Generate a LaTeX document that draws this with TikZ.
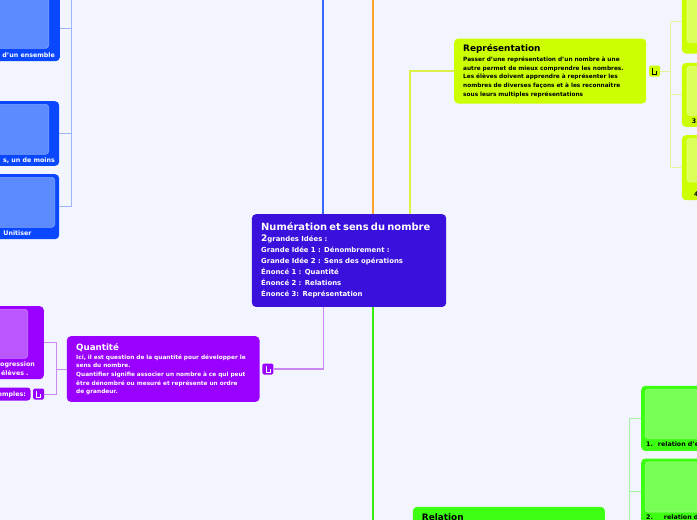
\documentclass[tikz,border=0pt]{standalone}
\usepackage{fontspec}
\setmainfont{DejaVu Sans}
\usetikzlibrary{positioning}

\definecolor{fond}{HTML}{F2F5FD}
\definecolor{centrecol}{HTML}{3A10DC}
\definecolor{bleucol}{HTML}{0A48FF}
\definecolor{bleuimg}{HTML}{5C8BFF}
\definecolor{bleubord}{HTML}{7FA3FF}
\definecolor{bleulien}{HTML}{9DB5FF}
\definecolor{bleutronc}{HTML}{3566FF}
\definecolor{orangetronc}{HTML}{FFA22E}
\definecolor{limecol}{HTML}{CCFF00}
\definecolor{limeimg}{HTML}{DCFF5A}
\definecolor{limebord}{HTML}{E6FF88}
\definecolor{limelien}{HTML}{E2F4A0}
\definecolor{limetronc}{HTML}{DDF04A}
\definecolor{violetcol}{HTML}{9A00FF}
\definecolor{violetimg}{HTML}{BB55FF}
\definecolor{violetbord}{HTML}{CC80FF}
\definecolor{violetlien}{HTML}{CC88F2}
\definecolor{vertcol}{HTML}{3DFF12}
\definecolor{vertimg}{HTML}{77FF55}
\definecolor{vertbord}{HTML}{99FF80}
\definecolor{vertlien}{HTML}{A8F0A8}
\definecolor{verttronc}{HTML}{38EE10}

% petit pictogramme de lien a cote d'un noeud
\newcommand\lienglyphe[2]{%
  \draw[#2, line width=0.7pt] ([shift={(-2pt,3pt)}]#1.center) -- ++(0pt,-6pt) -- ++(4pt,0pt) -- ++(0pt,3pt);}

\begin{document}
\begin{tikzpicture}[x=1pt, y=-1pt,
    trunk/.style={line width=2pt},
    twig/.style={line width=1pt},
    topic/.style={rectangle, rounded corners=4pt, inner xsep=9pt, inner ysep=0pt,
      align=left, anchor=north west, text width=174pt,
      font=\fontsize{5.8}{8.6}\selectfont\bfseries},
    leaf/.style={rectangle, rounded corners=4pt, inner sep=0pt},
    snapshot/.style={rectangle, rounded corners=3pt, inner sep=0pt, line width=0.6pt},
    caption/.style={inner sep=0pt, font=\fontsize{6.3}{7}\selectfont\bfseries},
    linkicon/.style={rectangle, rounded corners=1.5pt, minimum width=11pt,
      minimum height=11pt, inner sep=0pt}]

  \useasboundingbox (0,0) rectangle (697,520);
  \fill[fond] (0,0) rectangle (697,520);
  \clip (0,0) rectangle (697,520);

  % 1. noeud central
  \node[topic, fill=centrecol, text=white, text width=175.7pt, inner xsep=9.3pt,
    minimum height=92.7pt, font=\fontsize{6.9}{11}\selectfont\bfseries]
    (centre) at (251.7,214)
    {{\fontsize{9.9}{11}\selectfont Numération et sens du nombre}\\
     {\fontsize{9}{11}\selectfont 2}grandes Idées :\\
     Grande Idée 1 : Dénombrement :\\
     Grande Idée 2 : Sens des opérations\\
     Énoncé 1 : Quantité\\
     Énoncé 2 : Relations\\
     Énoncé 3: Représentation};

  % points de depart des branches (hors cadre)
  \coordinate (brancheBleue) at (323.3,-20);
  \coordinate (brancheOrange) at (372.7,-20);
  \coordinate (brancheLime) at (410,0);

  % 2. les trois sujets
  \node[topic, fill=limecol, text=black, minimum height=65pt] (representation) at (454,38.3)
    {{\fontsize{8.9}{10}\selectfont Représentation}\\[1.4pt]
     Passer d'une représentation d'un nombre à une\\
     autre permet de mieux comprendre les nombres.\\
     Les élèves doivent apprendre à représenter les\\
     nombres de diverses façons et à les reconnaître\\
     sous leurs multiples représentations};
  \node[topic, fill=violetcol, text=white, text width=174pt, inner xsep=9.3pt,
    minimum height=65.7pt] (quantite) at (66.7,336)
    {{\fontsize{8.7}{10}\selectfont Quantité}\\[0.4pt]
     Ici, il est question de la quantité pour développer le\\
     sens du nombre.\\
     Quantifier signifie associer un nombre à ce qui peut\\
     être dénombré ou mesuré et représente un ordre\\
     de grandeur.};
  \node[topic, fill=vertcol, minimum height=65pt] (relation) at (412.7,506.7) {};
  \node[inner sep=0pt, anchor=north west, font=\fontsize{8.9}{10}\selectfont\bfseries]
    (relationTitre) at ([shift={(9pt,-6.5pt)}]relation.north west) {Relation};

  % pictogrammes de lien
  \node[linkicon, fill=limecol, right=2.5pt of representation] (iconRep) {};
  \node[linkicon, fill=violetcol, right=2.5pt of quantite] (iconQ) {};
  \node[linkicon, fill=vertcol, right=2.5pt of relation] (iconR) {};
  \lienglyphe{iconRep}{black}
  \lienglyphe{iconQ}{white}

  % 3. troncs depuis le noeud central
  \draw[trunk, bleutronc] (brancheBleue) -- (brancheBleue |- centre.north);
  \draw[trunk, orangetronc] (brancheOrange) -- (brancheOrange |- centre.north);
  \draw[line width=1.4pt, limetronc] (representation.west) -| (brancheLime |- centre.north);
  \draw[line width=1.2pt, violetlien] (iconQ.east) -| (brancheBleue |- centre.south);
  \draw[trunk, verttronc] (brancheOrange |- centre.south) |- (relation.west);

  % 4. feuilles bleues (a gauche, en haut)
  \node[leaf, fill=bleucol, anchor=north east, minimum width=190pt, minimum height=66pt]
    (bleuA) at (60,-5) {};
  \node[leaf, fill=bleucol, anchor=north east, minimum width=190pt, minimum height=64.7pt]
    (bleuB) at (59.3,101) {};
  \node[leaf, fill=bleucol, anchor=north east, minimum width=190pt, minimum height=65pt]
    (bleuC) at (59.3,174) {};
  \node[snapshot, fill=bleuimg, draw=bleubord, minimum width=170pt, minimum height=50pt,
    below left=3pt and 11pt of bleuA.north east] (imgBleuA) {};
  \node[snapshot, fill=bleuimg, draw=bleubord, minimum width=170pt, minimum height=50pt,
    below left=3pt and 10.3pt of bleuB.north east] (imgBleuB) {};
  \node[snapshot, fill=bleuimg, draw=bleubord, minimum width=170pt, minimum height=50pt,
    below left=3pt and 4.3pt of bleuC.north east] (imgBleuC) {};
  \node[caption, text=white, anchor=base east] (capBleuA) at (55,57) {d'un ensemble};
  \node[caption, text=white, anchor=base east] (capBleuB) at (55,162) {s, un de moins};
  \node[caption, text=white, anchor=base] (capBleuC) at (17.5,235) {Unitiser};
  \coordinate (denombrement) at (71.7,-20);
  \foreach \f in {bleuA,bleuB,bleuC}
    \draw[twig, bleulien] (denombrement) |- (\f.east);

  % 5. feuilles violettes (a gauche, en bas)
  \node[leaf, fill=violetcol, anchor=north east, minimum width=150pt, minimum height=73pt]
    (violetA) at (44,306) {};
  \node[snapshot, fill=violetimg, draw=violetbord, minimum width=140pt, minimum height=49pt,
    below left=3pt and 16pt of violetA.north east] (imgViolet) {};
  \node[caption, text=white, anchor=base west] (capViolet1) at (0,366.5) {ogression};
  \node[caption, text=white, anchor=base west] (capViolet2) at (1,375) {élèves .};
  \node[leaf, rounded corners=3pt, fill=violetcol, anchor=north east, minimum width=80pt,
    minimum height=13pt] (exemples) at (30.7,387.3) {};
  \node[caption, text=white, anchor=base east] (capExemples) at (26,396.7) {emples:};
  \node[linkicon, fill=violetcol, right=2.3pt of exemples] (iconEx) {};
  \lienglyphe{iconEx}{white}
  \draw[twig, violetlien] (quantite.west) -- ++(-10,0) coordinate (fourcheQ);
  \draw[twig, violetlien] (fourcheQ) |- (violetA.east);
  \draw[twig, violetlien] (fourcheQ) |- (iconEx.east);

  % 6. feuilles jaune-vert (a droite, en haut)
  \node[leaf, fill=limecol, anchor=north west, minimum width=190pt, minimum height=63.3pt]
    (limeA) at (681.7,-10) {};
  \node[leaf, fill=limecol, anchor=north west, minimum width=190pt, minimum height=64pt]
    (limeB) at (681.7,62.7) {};
  \node[leaf, fill=limecol, anchor=north west, minimum width=190pt, minimum height=65pt]
    (limeC) at (681.7,135) {};
  \node[snapshot, fill=limeimg, draw=limebord, minimum width=180pt, minimum height=49pt,
    below right=3pt and 5pt of limeA.north west] (imgLimeA) {};
  \node[snapshot, fill=limeimg, draw=limebord, minimum width=180pt, minimum height=49pt,
    below right=3.3pt and 5pt of limeB.north west] (imgLimeB) {};
  \node[snapshot, fill=limeimg, draw=limebord, minimum width=180pt, minimum height=43.4pt,
    below right=3.3pt and 5pt of limeC.north west] (imgLimeC) {};
  \node[caption, anchor=base west] (capLimeB) at (691.7,123.3) {3.};
  \node[caption, anchor=base west] (capLimeC) at (694,196) {4};
  \draw[twig, limelien] (iconRep.east) -- ++(10.5,0) coordinate (fourcheRep);
  \foreach \f in {limeA,limeB,limeC}
    \draw[twig, limelien] (fourcheRep) |- (\f.west);

  % 7. feuilles vertes (a droite, en bas)
  \node[leaf, fill=vertcol, anchor=north west, minimum width=190pt, minimum height=65pt]
    (vertA) at (641,385.7) {};
  \node[leaf, fill=vertcol, anchor=north west, minimum width=190pt, minimum height=66pt]
    (vertB) at (641,458.3) {};
  \node[snapshot, fill=vertimg, draw=vertbord, minimum width=180pt, minimum height=49.3pt,
    below right=3.3pt and 4pt of vertA.north west] (imgVertA) {};
  \node[snapshot, fill=vertimg, draw=vertbord, minimum width=180pt, minimum height=50pt,
    below right=3.4pt and 4pt of vertB.north west] (imgVertB) {};
  \node[caption, anchor=base west] (capVertA) at (646,446.7) {1.\hspace{5pt}relation d'é};
  \node[caption, anchor=base west] (capVertB) at (646,519.3) {2.\hspace{11pt}relation d};
  \draw[twig, vertlien] (iconR.east) -- ++(10.5,0) coordinate (fourcheR);
  \foreach \f in {vertA,vertB}
    \draw[twig, vertlien] (fourcheR) |- (\f.west);
\end{tikzpicture}
\end{document}
